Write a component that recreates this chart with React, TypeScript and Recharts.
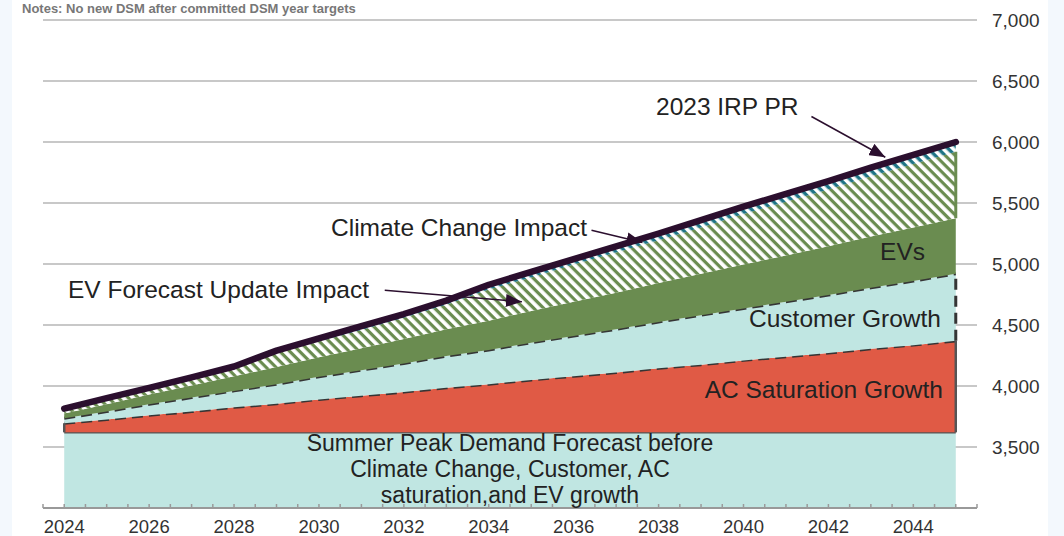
import { ComposedChart, Area, Line, XAxis, YAxis, CartesianGrid, ReferenceLine } from 'recharts';

const years = [2024, 2025, 2026, 2027, 2028, 2029, 2030, 2031, 2032, 2033, 2034, 2035, 2036, 2037, 2038, 2039, 2040, 2041, 2042, 2043, 2044, 2045];
const baseDemand = [3620, 3620, 3620, 3620, 3620, 3620, 3620, 3620, 3620, 3620, 3620, 3620, 3620, 3620, 3620, 3620, 3620, 3620, 3620, 3620, 3620, 3620];
const acSaturation = [75, 105, 140, 170, 205, 235, 270, 300, 330, 365, 395, 430, 460, 490, 525, 555, 590, 620, 650, 685, 715, 750];
const customerGrowth = [40, 65, 90, 115, 135, 160, 185, 210, 235, 260, 280, 305, 330, 355, 380, 405, 425, 450, 475, 500, 525, 550];
const evs = [40, 60, 80, 100, 120, 140, 160, 180, 200, 220, 240, 260, 280, 300, 320, 340, 360, 380, 400, 420, 440, 455];
const evForecastUpdate = [35, 45, 50, 55, 70, 115, 130, 150, 175, 200, 255, 275, 305, 330, 350, 380, 415, 440, 465, 495, 520, 545];
const climateChange = [5, 5, 5, 10, 10, 20, 25, 30, 30, 35, 40, 45, 45, 50, 55, 60, 60, 65, 70, 70, 75, 80];
const irpPr = [3815, 3900, 3985, 4070, 4160, 4290, 4390, 4490, 4590, 4700, 4830, 4935, 5040, 5145, 5250, 5360, 5470, 5575, 5680, 5790, 5895, 6000];

const yTicks = [3500, 4000, 4500, 5000, 5500, 6000, 6500, 7000];
const xTickLabels = [2024, 2026, 2028, 2030, 2032, 2034, 2036, 2038, 2040, 2042, 2044];

const data = years.map((year, i) => ({
  year,
  base: baseDemand[i],
  ac: acSaturation[i],
  customer: customerGrowth[i],
  evs: evs[i],
  evUpdate: evForecastUpdate[i],
  climate: climateChange[i],
  irp: irpPr[i],
}));

// half-year tick marks along the bottom axis
const xTicks: number[] = [];
for (let t = 2023.5; t <= 2045.5; t += 0.5) xTicks.push(t);

const FONT = '"Liberation Sans", Arial, Helvetica, sans-serif';
const DARK = '#2b0f2e';
const DASH = '#353535';
const last = years.length - 1;
const endYear = years[last];
const acTop = baseDemand[last] + acSaturation[last];
const custTop = acTop + customerGrowth[last];
const evTop = custTop + evs[last];
const updTop = evTop + evForecastUpdate[last];

function YearTick(props: any) {
  const { x, y, payload } = props;
  const v = payload.value;
  const show = xTickLabels.includes(v);
  return (
    <g>
      <line x1={x} x2={x} y1={y} y2={y - 4} stroke="#9a9a9a" strokeWidth={1.5} />
      {show && (
        <text x={x} y={y + 25} textAnchor="middle" fontSize={18.5} fill="#333" fontFamily={FONT}>
          {v}
        </text>
      )}
    </g>
  );
}

export default function App() {
  return (
    <div style={{ position: 'absolute', left: 0, top: 0, width: 1064, height: 536, background: '#f3f8fd', overflow: 'hidden' }}>
      <div style={{ position: 'absolute', left: 12, top: 0, width: 1036, height: 536, background: '#fff' }} />
      <svg width={1064} height={536} style={{ position: 'absolute', left: 0, top: 0 }}>
        <text x={22} y={13} fontSize={13} fontWeight="bold" fill="#777" fontFamily={FONT}>
          Notes: No new DSM after committed DSM year targets
        </text>
      </svg>
      <div style={{ position: 'absolute', left: 0, top: 0 }}>
        <ComposedChart width={1064} height={536} data={data} margin={{ top: 20, right: 0, bottom: 0, left: 43 }}>
          <defs>
            <pattern id="evHatch" patternUnits="userSpaceOnUse" width="7" height="7" patternTransform="rotate(-45)">
              <rect width="7" height="7" fill="#6a8c50" />
              <rect width="3.8" height="7" fill="#ffffff" />
            </pattern>
            <pattern id="climateHatch" patternUnits="userSpaceOnUse" width="7" height="7" patternTransform="rotate(-45)">
              <rect width="7" height="7" fill="#1f7486" />
              <rect width="3.6" height="7" fill="#ffffff" />
            </pattern>
            <marker id="arrowHead" markerUnits="userSpaceOnUse" markerWidth="16" markerHeight="13" refX="16" refY="6.5" orient="auto">
              <path d="M0,0 L16,6.5 L0,13 Z" fill={DARK} />
            </marker>
          </defs>
          <CartesianGrid horizontal vertical={false} stroke="#c8c8c8" strokeWidth={2} />
          <XAxis
            dataKey="year"
            type="number"
            domain={[2023.5, 2045.5]}
            ticks={xTicks}
            interval={0}
            height={28}
            tickSize={0}
            tickMargin={0}
            tickLine={false}
            axisLine={{ stroke: '#999', strokeWidth: 2 }}
            tick={<YearTick />}
          />
          <YAxis
            orientation="right"
            domain={[3000, 7000]}
            allowDataOverflow
            ticks={yTicks}
            width={87}
            tickSize={0}
            tickMargin={15}
            axisLine={false}
            tickLine={false}
            tickFormatter={(v: number) => v.toLocaleString('en-US')}
            tick={{ fontSize: 19, fill: '#333', fontFamily: FONT }}
          />
          <Area type="linear" dataKey="base" stackId="1" fill="#c0e6e2" fillOpacity={1} stroke="#555" strokeWidth={2.5} isAnimationActive={false} />
          <Area type="linear" dataKey="ac" stackId="1" fill="#e05a45" fillOpacity={1} stroke={DASH} strokeWidth={3} strokeDasharray="11 6" isAnimationActive={false} />
          <Area type="linear" dataKey="customer" stackId="1" fill="#c0e6e2" fillOpacity={1} stroke={DASH} strokeWidth={3} strokeDasharray="11 6" isAnimationActive={false} />
          <Area type="linear" dataKey="evs" stackId="1" fill="#6a8c50" fillOpacity={1} stroke="none" isAnimationActive={false} />
          <Area type="linear" dataKey="evUpdate" stackId="1" fill="url(#evHatch)" fillOpacity={1} stroke="none" isAnimationActive={false} />
          <Area type="linear" dataKey="climate" stackId="1" fill="url(#climateHatch)" fillOpacity={1} stroke="none" isAnimationActive={false} />
          <ReferenceLine segment={[{ x: years[0], y: baseDemand[0] }, { x: years[0], y: baseDemand[0] + acSaturation[0] }]} stroke="#555" strokeWidth={2.5} />
          <ReferenceLine segment={[{ x: endYear, y: baseDemand[last] }, { x: endYear, y: acTop }]} stroke="#555" strokeWidth={2.5} />
          <ReferenceLine segment={[{ x: endYear, y: acTop }, { x: endYear, y: custTop }]} stroke={DASH} strokeWidth={3} strokeDasharray="11 6" />
          <ReferenceLine segment={[{ x: endYear, y: evTop }, { x: endYear, y: updTop }]} stroke="#6a8c50" strokeWidth={3} />
          <Line type="linear" dataKey="irp" stroke={DARK} strokeWidth={6.5} strokeLinecap="round" strokeLinejoin="round" dot={false} isAnimationActive={false} />
          <ReferenceLine segment={[{ x: 2041.6, y: 6209 }, { x: 2043.34, y: 5875 }]} stroke={DARK} strokeWidth={1.5} markerEnd="url(#arrowHead)" />
          <ReferenceLine segment={[{ x: 2036.42, y: 5276 }, { x: 2037.62, y: 5177 }]} stroke={DARK} strokeWidth={1.5} markerEnd="url(#arrowHead)" />
          <ReferenceLine segment={[{ x: 2031.55, y: 4784 }, { x: 2034.78, y: 4690 }]} stroke={DARK} strokeWidth={1.5} markerEnd="url(#arrowHead)" />
        </ComposedChart>
      </div>
      <svg width={1064} height={536} style={{ position: 'absolute', left: 0, top: 0, pointerEvents: 'none' }}>
        <g fontFamily={FONT} fontSize={24.5} fill="#222">
          <text x={656} y={115}>2023 IRP PR</text>
          <text x={331} y={236}>Climate Change Impact</text>
          <text x={68} y={298}>EV Forecast Update Impact</text>
          <text x={925} y={260} textAnchor="end">EVs</text>
          <text x={941} y={327} textAnchor="end">Customer Growth</text>
          <text x={943} y={398} textAnchor="end">AC Saturation Growth</text>
        </g>
        <g fontFamily={FONT} fontSize={23} fill="#222" textAnchor="middle">
          <text x={510} y={451}>Summer Peak Demand Forecast before</text>
          <text x={510} y={477}>Climate Change, Customer, AC</text>
          <text x={510} y={503}>saturation,and EV growth</text>
        </g>
      </svg>
    </div>
  );
}
